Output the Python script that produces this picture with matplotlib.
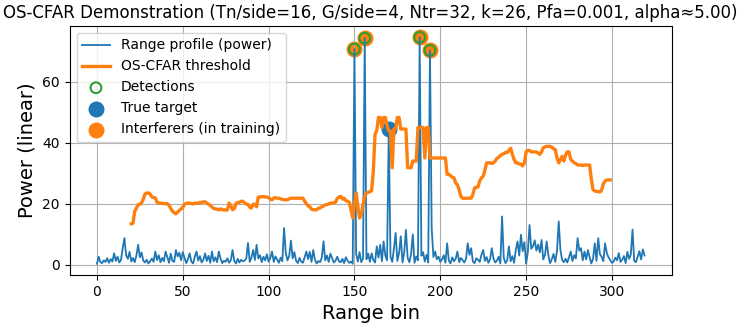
import numpy as np
import matplotlib
matplotlib.use("Agg")
from matplotlib import pyplot as plt

# range profile (power), bins 0..319
power = [
    0.3, 2.6, 0.8, 0.5, 1.4, 0.9, 2.1, 0.6, 1.8, 1.0,
    3.7, 1.2, 2.6, 0.7, 1.5, 5.4, 8.7, 3.1, 1.9, 4.2,
    1.0, 2.2, 0.8, 3.0, 6.5, 2.4, 4.0, 1.3, 0.7, 1.6,
    0.4, 1.1, 2.0, 0.9, 4.3, 1.5, 3.1, 0.8, 2.2, 1.1,
    4.3, 2.5, 0.6, 3.6, 1.2, 0.9, 4.8, 2.7, 3.9, 1.4,
    4.1, 2.3, 0.5, 1.8, 3.7, 1.0, 0.4, 2.6, 4.3, 1.3,
    2.8, 0.7, 1.6, 3.7, 1.2, 2.9, 0.6, 4.3, 1.1, 2.4,
    0.8, 4.3, 2.0, 0.5, 1.3, 0.9, 2.1, 0.6, 1.5, 4.8,
    1.2, 0.4, 1.9, 0.7, 1.6, 1.1, 1.3, 2.0, 7.1, 0.9,
    2.3, 4.8, 1.5, 6.5, 2.0, 3.1, 0.8, 2.6, 1.4, 3.4,
    1.0, 2.2, 4.3, 0.9, 2.7, 1.7, 0.6, 2.3, 1.1, 12.0,
    3.9, 1.4, 2.8, 7.9, 2.1, 4.1, 1.3, 0.5, 2.2, 1.0,
    0.6, 2.5, 4.3, 1.8, 4.2, 0.9, 4.8, 1.6, 0.4, 1.2,
    0.8, 2.4, 7.7, 1.4, 3.0, 0.9, 3.6, 2.1, 0.7, 1.3,
    2.6, 1.1, 0.8, 1.9, 0.5, 2.4, 1.3, 0.6, 1.0, 0.3,
    70.7, 3.5, 1.0, 4.1, 0.8, 2.0, 74.3, 1.8, 3.6, 0.9,
    3.7, 1.5, 0.7, 6.0, 2.3, 6.5, 1.1, 7.6, 3.0, 1.4,
    44.5, 2.6, 0.9, 5.2, 10.4, 1.2, 3.8, 9.3, 0.7, 4.0,
    11.4, 2.2, 0.8, 3.5, 9.9, 0.6, 2.7, 1.4, 74.6, 2.9,
    4.1, 1.0, 3.2, 0.7, 70.3, 12.0, 2.5, 4.3, 1.8, 2.6,
    0.9, 1.7, 3.1, 0.6, 7.0, 1.3, 0.4, 2.4, 1.1, 2.0,
    4.3, 0.8, 2.2, 1.5, 0.7, 1.9, 7.0, 3.2, 5.4, 1.0,
    0.5, 2.1, 1.6, 0.9, 3.3, 4.8, 1.2, 2.5, 0.6, 1.8,
    5.4, 2.0, 0.7, 1.3, 2.6, 0.4, 15.8, 2.2, 0.5, 1.4,
    6.0, 1.1, 2.8, 0.6, 4.8, 7.6, 3.0, 9.8, 4.4, 7.4,
    0.3, 4.0, 13.0, 5.2, 6.0, 8.0, 4.6, 6.6, 4.0, 8.1,
    1.7, 3.2, 7.6, 2.9, 0.5, 1.8, 3.5, 0.9, 4.5, 14.2,
    4.8, 1.5, 0.8, 1.9, 0.7, 2.4, 4.3, 1.2, 3.1, 2.0,
    8.7, 4.6, 5.4, 1.4, 4.3, 1.7, 4.8, 2.5, 0.4, 1.9,
    7.0, 1.2, 8.7, 3.4, 2.6, 1.1, 7.0, 3.8, 2.4, 1.5,
    0.6, 1.0, 2.3, 1.4, 3.8, 0.9, 1.6, 2.8, 0.5, 4.2,
    1.9, 3.3, 11.5, 1.2, 0.8, 2.6, 4.4, 1.7, 5.0, 3.0,
]

# OS-CFAR threshold, valid for bins 20..299
thr_start = 20
threshold = [
    13.4, 13.6, 17.5, 18.5, 19.7, 19.8, 20.3, 21.5, 23.2, 23.5,
    23.5, 23.2, 22.2, 22.0, 21.9, 20.5, 20.2, 20.2, 20.1, 20.0,
    20.0, 20.0, 19.5, 18.4, 17.6, 17.0, 16.7, 17.2, 17.8, 18.3,
    18.7, 19.8, 20.1, 20.2, 20.2, 20.0, 19.9, 20.2, 20.2, 20.1,
    20.4, 20.4, 20.6, 20.6, 20.2, 19.8, 19.5, 18.9, 18.4, 18.3,
    18.2, 18.0, 18.3, 18.0, 18.0, 17.9, 18.0, 20.2, 19.4, 18.0,
    18.4, 20.0, 20.4, 20.4, 20.8, 20.8, 20.3, 19.8, 19.8, 18.8,
    18.6, 19.8, 19.8, 19.0, 22.2, 22.2, 22.3, 22.3, 22.2, 22.2,
    22.0, 21.4, 21.3, 21.8, 22.0, 21.8, 21.8, 21.6, 21.4, 21.3,
    21.3, 21.3, 21.6, 21.8, 21.8, 21.8, 21.8, 21.8, 21.8, 21.8,
    21.8, 20.8, 20.0, 19.3, 19.0, 18.2, 18.0, 18.0, 18.0, 18.5,
    18.6, 19.0, 19.2, 19.6, 19.7, 19.9, 20.2, 20.2, 20.3, 20.5,
    21.7, 22.2, 22.4, 21.5, 21.8, 21.0, 20.8, 20.5, 18.0, 15.3,
    20.0, 23.5, 19.0, 15.3, 16.5, 19.7, 22.5, 23.5, 23.7, 24.0,
    24.2, 30.7, 42.8, 44.0, 48.3, 48.3, 45.0, 48.3, 48.3, 45.5,
    43.9, 43.9, 31.8, 44.5, 44.5, 48.3, 48.3, 44.5, 44.5, 44.5,
    44.5, 31.8, 31.8, 31.8, 34.0, 34.0, 34.0, 45.0, 45.0, 45.0,
    45.0, 35.0, 45.0, 45.0, 35.0, 35.0, 35.0, 35.0, 35.0, 35.0,
    35.0, 35.0, 35.0, 35.0, 29.6, 29.6, 29.2, 28.7, 28.5, 26.8,
    26.2, 24.5, 22.4, 21.8, 21.8, 21.8, 21.8, 21.8, 21.8, 23.0,
    25.2, 25.4, 25.5, 27.5, 28.5, 29.0, 31.0, 33.4, 33.4, 33.4,
    33.2, 33.4, 34.0, 34.9, 35.2, 35.8, 36.2, 36.4, 36.8, 36.8,
    37.5, 38.2, 36.2, 34.5, 33.4, 33.4, 33.0, 33.0, 32.4, 33.4,
    37.0, 37.5, 37.5, 37.0, 37.0, 37.0, 37.0, 36.6, 36.2, 37.0,
    38.4, 38.6, 38.8, 38.8, 38.8, 38.6, 38.0, 37.8, 35.0, 33.4,
    34.5, 35.5, 34.0, 36.0, 37.0, 37.0, 34.5, 34.0, 33.4, 33.2,
    32.7, 32.7, 32.7, 32.5, 32.7, 32.7, 32.7, 32.7, 28.0, 24.6,
    24.2, 24.0, 24.0, 23.8, 24.5, 26.5, 27.4, 27.8, 27.8, 27.8,
]

target_bin = 170
interferer_bins = [150, 156, 188, 194]
detection_bins = [150, 156, 188, 194]

power = np.array(power)
bins = np.arange(len(power))
thr_bins = np.arange(thr_start, thr_start + len(threshold))

fig, ax = plt.subplots(figsize=(7.4, 3.29), dpi=100)
fig.subplots_adjust(left=0.094, right=0.908, top=0.921, bottom=0.164)

ax.plot(bins, power, color="tab:blue", lw=1.3, label="Range profile (power)")
ax.plot(thr_bins, threshold, color="tab:orange", lw=2.4, label="OS-CFAR threshold")

# markers sit under the lines
ax.scatter(detection_bins, power[detection_bins], s=60, facecolors="none",
           edgecolors="tab:green", linewidths=1.5, zorder=1.6, label="Detections")
ax.scatter([target_bin], power[[target_bin]], s=110, color="tab:blue",
           zorder=1.4, label="True target")
ax.scatter(interferer_bins, power[interferer_bins], s=110, color="tab:orange",
           zorder=1.5, label="Interferers (in training)")

ax.set_title("OS-CFAR Demonstration (Tn/side=16, G/side=4, Ntr=32, k=26, "
             "Pfa=0.001, alpha\u22485.00)", fontsize=12)
ax.set_xlabel("Range bin", fontsize=14)
ax.set_ylabel("Power (linear)", fontsize=14)
ax.grid(True)
ax.legend(loc="upper left", fontsize=10)

fig.savefig("out.png", dpi=100)
